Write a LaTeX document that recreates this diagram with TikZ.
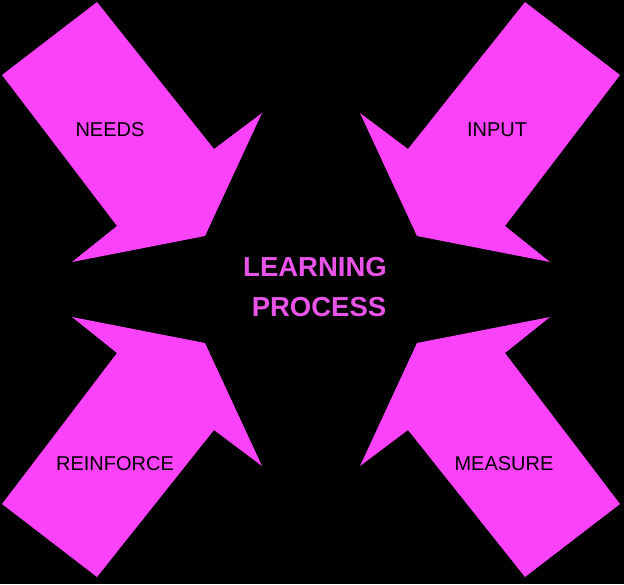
\documentclass[tikz,border=0pt]{standalone}
\usepackage{fontspec}
\setmainfont{Liberation Sans}
\definecolor{arrowpink}{RGB}{250,66,250}
\definecolor{titlepink}{RGB}{232,84,232}
\tikzset{
    arrowbody/.style={fill=arrowpink},
    armlabel/.style={text=black, font=\fontsize{20}{23}\selectfont},
    centrelabel/.style={text=titlepink, font=\bfseries\fontsize{27.5}{40}\selectfont, align=center}
}
% One arrow, pointing to the centre from the top left
\newcommand{\pinkarrow}{%
    \fill [arrowbody] (97, 2) -- (2, 75) -- (117, 226) -- (72, 262) -- (205, 236)
        -- (262, 113) -- (214, 149) -- cycle;}
\begin{document}
\begin{tikzpicture}[x=1pt, y=-1pt]
    % Background
    \fill [black] (0, 0) rectangle (624, 584);
    % Draw arrows
    \pinkarrow
    \begin{scope}[xshift=622pt, xscale=-1]
        \pinkarrow
    \end{scope}
    \begin{scope}[yshift=-579pt, yscale=-1]
        \pinkarrow
    \end{scope}
    \begin{scope}[xshift=622pt, yshift=-579pt, xscale=-1, yscale=-1]
        \pinkarrow
    \end{scope}
    % Labels
    \node [armlabel] (needs) at (110, 130) {NEEDS};
    \node [armlabel] (input) at (497, 130) {INPUT};
    \node [armlabel] (reinforce) at (115, 464) {REINFORCE};
    \node [armlabel] (measure) at (504, 464) {MEASURE};
    \node [centrelabel] (process) at (315, 287) {LEARNING\\ \hspace*{8pt}PROCESS};
\end{tikzpicture}
\end{document}
